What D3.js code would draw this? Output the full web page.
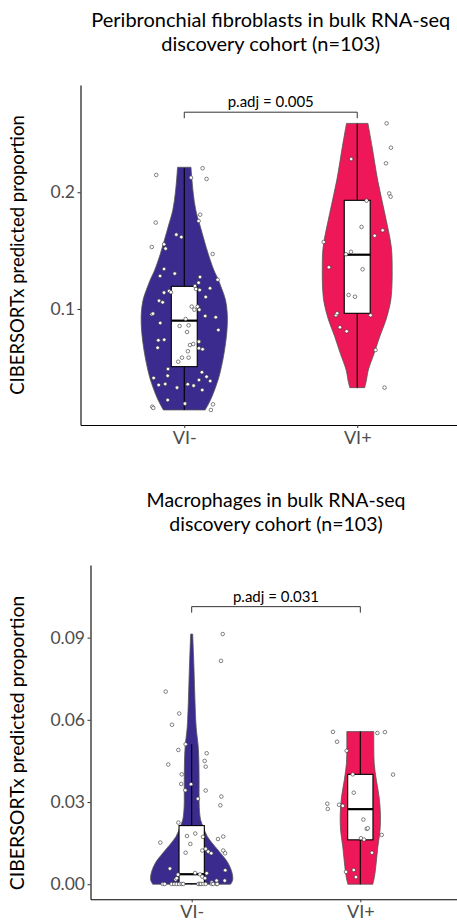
<!DOCTYPE html>
<html>
<head>
<meta charset="utf-8">
<script src="https://cdn.jsdelivr.net/npm/d3@7"></script>
<style>
  body { margin: 0; background: #fff; }
  text { font-family: Lato, "DejaVu Sans", sans-serif; }
</style>
</head>
<body>
<svg id="chart"></svg>
<script>
var width = 457, height = 922;

// groups on the x axis
var groups = ["VI-", "VI+"];
var groupColors = ["#3b2b8e", "#ee1757"];

//////////////////////
// panel 1: fibroblasts
//////////////////////
var fibroTitle = ["Peribronchial fibroblasts in bulk RNA-seq", "discovery cohort (n=103)"];
var fibroTicks = [0.1, 0.2];
var fibroPadj = "p.adj = 0.005", fibroBracketY = 0.2686;

// violin outline: [value, half width in category units]
var fibroDensNeg = [[0.2214,0.039],[0.213,0.043],[0.199,0.052],[0.185,0.066],[0.171,0.092],[0.147,0.139],
  [0.133,0.172],[0.126,0.194],[0.118,0.215],[0.108,0.238],[0.095,0.249],[0.08,0.246],[0.063,0.231],
  [0.05,0.214],[0.04,0.197],[0.0235,0.156],[0.0135,0.121]];
var fibroDensPos = [[0.259,0.062],[0.239,0.086],[0.2105,0.118],[0.182,0.159],[0.153,0.197],[0.133,0.202],
  [0.115,0.199],[0.105,0.191],[0.0906,0.166],[0.0763,0.130],[0.062,0.098],[0.0477,0.064],[0.038,0.052],[0.0326,0.043]];

// box: lower whisker, q1, median, q3, upper whisker
var fibroBoxNeg = [0.0135, 0.0506, 0.090, 0.1194, 0.2206];
var fibroBoxPos = [0.0326, 0.0963, 0.1465, 0.1931, 0.259];

// samples: [value, jitter]
var fibroPtsNeg = [[0.2148,-0.162],[0.2206,0.106],[0.2114,0.129],[0.2125,0.039],[0.1808,0.092],[0.1754,0.083],
  [0.174,-0.165],[0.1637,-0.046],[0.1616,-0.017],[0.1554,-0.117],[0.1517,-0.108],[0.1531,-0.188],[0.1471,0.164],
  [0.1343,-0.117],[0.1283,-0.140],[0.1303,-0.055],[0.1274,0.091],[0.1251,0.193],[0.1225,0.083],[0.1197,0.062],
  [0.114,-0.117],[0.1154,-0.088],[0.1143,-0.077],[0.1171,0.068],[0.1163,0.089],[0.1177,0.149],[0.1103,0.124],
  [0.1071,-0.146],[0.1057,-0.125],[0.0955,-0.188],[0.096,-0.181],[0.102,0.043],[0.0994,0.058],[0.102,0.077],
  [0.0994,0.087],[0.094,0.121],[0.0929,0.182],[0.0914,0.008],[0.088,-0.139],[0.0854,-0.027],[0.086,0.025],
  [0.082,0.197],[0.0803,0.016],[0.0732,-0.150],[0.0737,-0.116],[0.072,0.085],[0.0668,-0.154],[0.0691,0.033],
  [0.07,0.052],[0.0663,0.085],[0.0655,0.106],[0.0638,0.021],[0.0583,0.025],[0.0583,-0.013],[0.0548,-0.035],
  [0.0486,-0.094],[0.0458,0.102],[0.0428,-0.096],[0.042,0.129],[0.0383,0.150],[0.0409,-0.177],[0.0392,0.085],
  [0.0349,-0.148],[0.0357,-0.110],[0.0355,0.020],[0.0343,0.054],[0.0326,-0.042],[0.0306,0.104],[0.022,-0.096],
  [0.0189,0.004],[0.0183,0.166],[0.0163,-0.185],[0.0152,-0.179],[0.0135,0.154]];
var fibroPtsPos = [[0.259,0.170],[0.2382,0.195],[0.2248,0.166],[0.2285,-0.035],[0.199,0.185],[0.1962,0.193],
  [0.1928,0.054],[0.1703,0.025],[0.1674,0.147],[0.1628,0.101],[0.1574,-0.194],[0.149,-0.036],[0.1469,-0.065],
  [0.1357,-0.164],[0.134,0.031],[0.112,-0.050],[0.1105,-0.013],[0.0946,-0.123],[0.0963,-0.116],[0.0946,0.077],
  [0.0843,-0.100],[0.0809,-0.061],[0.0649,0.106],[0.0326,0.158]];

//////////////////////
// panel 2: macrophages
//////////////////////
var macroTitle = ["Macrophages in bulk RNA-seq", "discovery cohort (n=103)"];
var macroTicks = [0, 0.03, 0.06, 0.09];
var macroPadj = "p.adj = 0.031", macroBracketY = 0.1013;

var macroDensNeg = [[0.0913,0.006],[0.085,0.010],[0.08,0.013],[0.07,0.018],[0.06,0.024],[0.0563,0.028],
  [0.05,0.039],[0.044,0.043],[0.038,0.044],[0.032,0.044],[0.028,0.045],[0.0235,0.053],[0.021,0.068],
  [0.0174,0.093],[0.015,0.122],[0.0113,0.172],[0.0077,0.216],[0.004,0.240],[0.0015,0.243],[0,0.231]];
var macroDensPos = [[0.0557,0.080],[0.05,0.080],[0.0442,0.082],[0.038,0.095],[0.032,0.111],[0.0259,0.119],
  [0.0198,0.117],[0.0137,0.104],[0.0077,0.094],[0.0028,0.084],[0,0.074]];

var macroBoxNeg = [0, 0.0002, 0.00365, 0.0214, 0.0511];
var macroBoxPos = [0, 0.0162, 0.0274, 0.0401, 0.0557];

var macroPtsNeg = [[0.0913,0.184],[0.0815,0.174],[0.0703,-0.154],[0.0623,-0.074],[0.0582,-0.117],[0.0511,-0.036],
  [0.049,-0.079],[0.0478,0.089],[0.0437,-0.139],[0.045,0.077],[0.0429,0.083],[0.0401,-0.059],[0.0366,-0.062],
  [0.0365,-0.004],[0.0343,-0.038],[0.0342,0.083],[0.0312,0.037],[0.032,0.176],[0.0288,0.170],[0.0225,-0.079],
  [0.0152,-0.186],[0.0176,-0.028],[0.0185,0.021],[0.0147,-0.008],[0.0173,0.067],[0.0165,0.156],[0.0174,0.187],
  [0.0115,-0.036],[0.0123,0.063],[0.0129,0.083],[0.0119,0.098],[0.0113,0.116],[0.0123,0.187],[0.0113,0.198],
  [0.0057,-0.129],[0.0051,0.199],[0.0035,-0.081],[0.0041,0.020],[0.0036,0.049],[0.0028,0.063],[0.004,0.089],
  [0.0017,-0.095],[0.0013,0.196],[0.0007,0.119],[0.0022,-0.089],[0.0022,0.079],[0.0013,0.148],
  [0.0001,-0.172],[0.0001,-0.160],[0.0001,-0.119],[0.0001,-0.103],[0.0001,-0.089],[0.0001,-0.074],
  [0.0001,-0.059],[0.0001,-0.050],[0.0001,0.039],[0.0001,0.049],[0.0001,0.055],[0.0001,0.069],
  [0.0001,0.083],[0.0001,0.119],[0.0001,0.128],[0.0001,0.148],[0.0001,0.152]];
var macroPtsPos = [[0.0556,-0.162],[0.0552,0.101],[0.0555,0.146],[0.052,-0.138],[0.0487,-0.081],[0.0401,-0.045],
  [0.04,0.194],[0.0334,-0.039],[0.0294,-0.196],[0.0275,-0.193],[0.029,-0.126],[0.0286,-0.104],[0.0236,0.018],
  [0.0202,0.038],[0.0204,0.044],[0.0168,0.004],[0.0163,0.022],[0.018,0.127],[0.0115,0.069],[0.0052,-0.039],
  [0.0045,-0.085],[0.0026,-0.026]];

// panel settings built from the arrays above
var panels = [
  { title: fibroTitle, ticks: fibroTicks, fmt: ".1f", padj: fibroPadj, bracketY: fibroBracketY,
    yDomain: [0.0006, 0.2919], left: 80.5, right: 461, top: 85, bottom: 425,
    titleSize: 20, labelSize: 18.5, labelY: 255,
    dens: [fibroDensNeg, fibroDensPos], box: [fibroBoxNeg, fibroBoxPos], pts: [fibroPtsNeg, fibroPtsPos] },
  { title: macroTitle, ticks: macroTicks, fmt: ".2f", padj: macroPadj, bracketY: macroBracketY,
    yDomain: [-0.0055, 0.1165], left: 90.5, right: 461.5, top: 565, bottom: 899.3,
    titleSize: 19.5, labelSize: 19.5, labelY: 743,
    dens: [macroDensNeg, macroDensPos], box: [macroBoxNeg, macroBoxPos], pts: [macroPtsNeg, macroPtsPos] }
];

var svg = d3.select("#chart")
    .attr("width", width)
    .attr("height", height);

panels.forEach(function(p) {
  var x = d3.scaleLinear().domain([0.4, 2.6]).range([p.left, p.right]);
  var y = d3.scaleLinear().domain(p.yDomain).range([p.bottom, p.top]);
  var unit = x(2) - x(1);
  var g = svg.append("g");

  // violins
  groups.forEach(function(name, i) {
    var cx = x(i + 1);
    var area = d3.area()
        .y(function(d) { return y(d[0]); })
        .x0(function(d) { return cx - d[1] * unit; })
        .x1(function(d) { return cx + d[1] * unit; })
        .curve(d3.curveCatmullRom);
    g.append("path")
      .datum(p.dens[i])
      .attr("d", area)
      .attr("fill", groupColors[i])
      .attr("stroke", "#555")
      .attr("stroke-width", 0.8);
  });

  // boxplots
  var boxW = 0.075 * unit;
  groups.forEach(function(name, i) {
    var cx = x(i + 1), b = p.box[i];
    g.append("line")
      .attr("x1", cx).attr("x2", cx)
      .attr("y1", y(b[0])).attr("y2", y(b[4]))
      .attr("stroke", "#000").attr("stroke-width", 1.1);
    g.append("rect")
      .attr("x", cx - boxW).attr("width", boxW * 2)
      .attr("y", y(b[3])).attr("height", y(b[1]) - y(b[3]))
      .attr("fill", "#fff").attr("stroke", "#000").attr("stroke-width", 1.1);
    g.append("line")
      .attr("x1", cx - boxW).attr("x2", cx + boxW)
      .attr("y1", y(b[2])).attr("y2", y(b[2]))
      .attr("stroke", "#000").attr("stroke-width", 2.2);
  });

  // jittered points
  groups.forEach(function(name, i) {
    g.selectAll(null)
      .data(p.pts[i])
      .enter().append("circle")
        .attr("cx", function(d) { return x(i + 1 + d[1]); })
        .attr("cy", function(d) { return y(d[0]); })
        .attr("r", 1.8)
        .attr("fill", "#fff")
        .attr("stroke", "#333")
        .attr("stroke-width", 0.6);
  });

  // p value bracket
  var by = y(p.bracketY);
  g.append("path")
    .attr("d", "M" + x(1) + "," + (by + 6) + "V" + by + "H" + x(2) + "V" + (by + 6))
    .attr("fill", "none").attr("stroke", "#333").attr("stroke-width", 1);
  g.append("text")
    .attr("x", (x(1) + x(2)) / 2).attr("y", by - 5)
    .attr("text-anchor", "middle")
    .attr("font-size", 15)
    .text(p.padj);

  // axes
  var yAxis = g.append("g")
    .attr("transform", "translate(" + p.left + ",0)")
    .call(d3.axisLeft(y).tickValues(p.ticks).tickFormat(d3.format(p.fmt)).tickSize(3).tickSizeOuter(0).tickPadding(2.5));
  yAxis.selectAll("text").attr("font-size", 17.5).attr("fill", "#4d4d4d").attr("font-family", "Lato");

  var xAxis = g.append("g")
    .attr("transform", "translate(0," + p.bottom + ")")
    .call(d3.axisBottom(x).tickValues([1, 2]).tickFormat(function(d) { return groups[d - 1]; }).tickSize(3).tickSizeOuter(0).tickPadding(3));
  xAxis.selectAll("text").attr("font-size", 18).attr("fill", "#4d4d4d").attr("font-family", "Lato");

  [yAxis, xAxis].forEach(function(a) {
    a.select(".domain").attr("stroke", "#000").attr("stroke-width", 1.1);
    a.selectAll(".tick line").attr("stroke", "#333");
  });

  // axis title
  g.append("text")
    .attr("transform", "translate(24," + p.labelY + ") rotate(-90)")
    .attr("text-anchor", "middle")
    .attr("font-size", p.labelSize)
    .text("CIBERSORTx predicted proportion");

  // title
  g.selectAll(null)
    .data(p.title)
    .enter().append("text")
      .attr("x", (p.left + p.right) / 2)
      .attr("y", function(d, k) { return p.top - 58 + k * 23.5; })
      .attr("text-anchor", "middle")
      .attr("font-size", p.titleSize)
      .text(function(d) { return d; });
});
</script>
</body>
</html>
